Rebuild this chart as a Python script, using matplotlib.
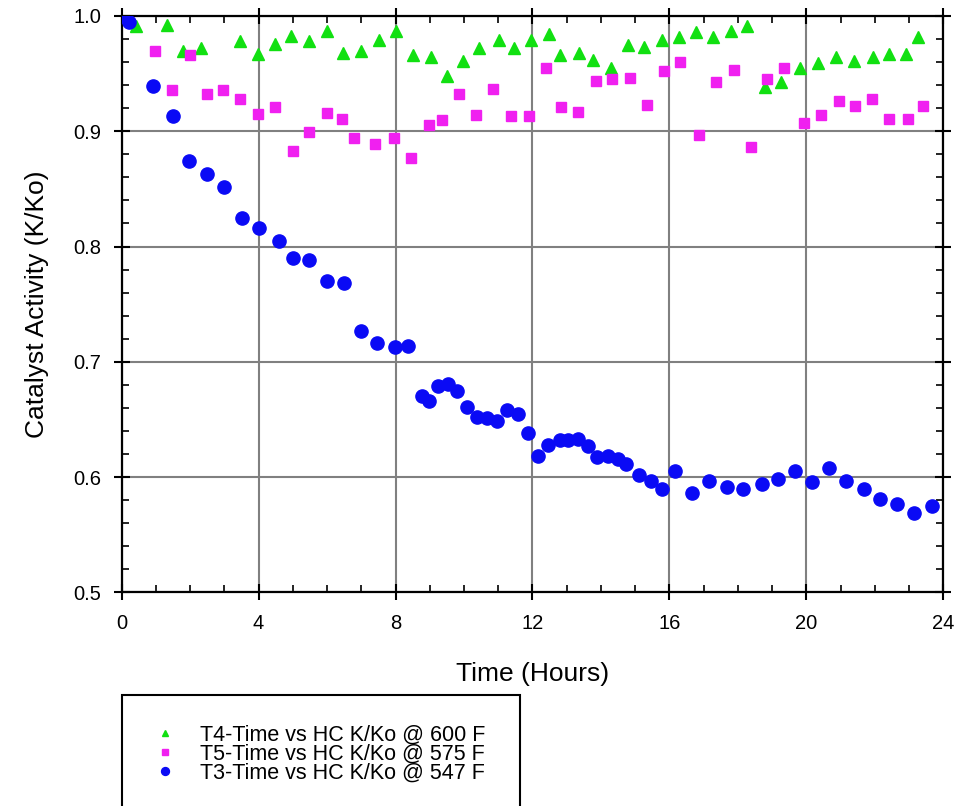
import matplotlib
matplotlib.use('Agg')
import matplotlib.pyplot as plt
from matplotlib.patches import Rectangle
from matplotlib.ticker import MultipleLocator, FormatStrFormatter

plt.rcParams['font.family'] = ['Liberation Sans', 'DejaVu Sans']

# T4 - 600 F
t4_time = [0.0, 0.42, 1.31, 1.80, 2.32, 3.46, 3.97, 4.47, 4.96, 5.46, 5.99, 6.47, 6.98,
           7.53, 8.01, 8.52, 9.03, 9.49, 9.98, 10.45, 11.01, 11.47, 11.96, 12.47, 12.80,
           13.35, 13.78, 14.29, 14.78, 15.27, 15.79, 16.27, 16.78, 17.27, 17.79, 18.28,
           18.79, 19.26, 19.82, 20.33, 20.87, 21.40, 21.94, 22.41, 22.90, 23.25]
t4_kko = [1.0, 0.991, 0.992, 0.970, 0.9725, 0.978, 0.967, 0.976, 0.983, 0.978, 0.987,
          0.968, 0.970, 0.979, 0.987, 0.966, 0.964, 0.948, 0.961, 0.9725, 0.979, 0.972,
          0.979, 0.984, 0.966, 0.968, 0.962, 0.955, 0.975, 0.973, 0.979, 0.982, 0.986,
          0.9815, 0.987, 0.991, 0.938, 0.943, 0.955, 0.959, 0.964, 0.961, 0.964, 0.967,
          0.967, 0.982]

# T5 - 575 F
t5_time = [0.97, 1.48, 2.0, 2.50, 2.97, 3.46, 3.99, 4.48, 5.0, 5.47, 5.99, 6.44, 6.80,
           7.40, 7.95, 8.44, 8.97, 9.35, 9.85, 10.35, 10.86, 11.36, 11.90, 12.39, 12.84,
           13.34, 13.86, 14.33, 14.85, 15.34, 15.84, 16.32, 16.86, 17.35, 17.89, 18.38,
           18.84, 19.34, 19.94, 20.43, 20.96, 21.42, 21.91, 22.40, 22.98, 23.42]
t5_kko = [0.970, 0.936, 0.966, 0.932, 0.936, 0.928, 0.915, 0.921, 0.883, 0.899, 0.916,
          0.911, 0.894, 0.889, 0.894, 0.877, 0.905, 0.910, 0.932, 0.914, 0.937, 0.913,
          0.913, 0.955, 0.921, 0.917, 0.944, 0.945, 0.946, 0.923, 0.952, 0.960, 0.897,
          0.943, 0.953, 0.886, 0.945, 0.955, 0.907, 0.914, 0.926, 0.922, 0.928, 0.911,
          0.911, 0.922]

# T3 - 547 F
t3_time = [0.0, 0.22, 0.92, 1.49, 1.97, 2.50, 3.0, 3.52, 4.0, 4.61, 5.0, 5.46, 5.99,
           6.49, 6.99, 7.47, 7.98, 8.37, 8.76, 8.98, 9.23, 9.52, 9.80, 10.10, 10.37,
           10.66, 10.96, 11.27, 11.57, 11.86, 12.15, 12.46, 12.80, 13.05, 13.34, 13.61,
           13.88, 14.20, 14.49, 14.73, 15.12, 15.46, 15.78, 16.16, 16.66, 17.17, 17.67,
           18.16, 18.70, 19.16, 19.66, 20.16, 20.66, 21.16, 21.67, 22.15, 22.66, 23.15,
           23.66]
t3_kko = [1.0, 0.995, 0.939, 0.913, 0.874, 0.863, 0.852, 0.825, 0.816, 0.805, 0.790,
          0.788, 0.770, 0.768, 0.727, 0.716, 0.713, 0.714, 0.670, 0.666, 0.679, 0.681,
          0.675, 0.661, 0.652, 0.651, 0.649, 0.658, 0.655, 0.638, 0.618, 0.628, 0.632,
          0.632, 0.633, 0.627, 0.617, 0.618, 0.616, 0.611, 0.602, 0.597, 0.590, 0.605,
          0.586, 0.597, 0.591, 0.590, 0.594, 0.598, 0.605, 0.596, 0.608, 0.597, 0.590,
          0.581, 0.577, 0.569, 0.575]

labels = ['T4-Time vs HC K/Ko @ 600 F', 'T5-Time vs HC K/Ko @ 575 F',
          'T3-Time vs HC K/Ko @ 547 F']

fig = plt.figure(figsize=(9.61, 8.06), dpi=100)
ax = fig.add_axes([0.1266, 0.2651, 0.855, 0.7151])

green, magenta, blue = '#11e011', '#f020f0', '#0a0af5'
h4, = ax.plot(t4_time, t4_kko, '^', color=green, markersize=8, linestyle='none', zorder=3)
h5, = ax.plot(t5_time, t5_kko, 's', color=magenta, markersize=6.5, linestyle='none', zorder=3)
h3, = ax.plot(t3_time, t3_kko, 'o', color=blue, markersize=9.5, linestyle='none', zorder=4)

ax.set_xlim(0, 24)
ax.set_ylim(0.5, 1.0)
ax.xaxis.set_major_locator(MultipleLocator(4))
ax.xaxis.set_minor_locator(MultipleLocator(1))
ax.yaxis.set_major_locator(MultipleLocator(0.1))
ax.yaxis.set_minor_locator(MultipleLocator(0.02))
ax.yaxis.set_major_formatter(FormatStrFormatter('%.1f'))
ax.grid(True, which='major', color='#808080', linewidth=1.5, zorder=1)
ax.set_axisbelow(True)
for s in ax.spines.values():
    s.set_linewidth(1.6)
    s.set_color('black')
ax.tick_params(which='major', direction='inout', length=11, width=1.5,
               top=True, right=True, labelsize=14.5)
ax.tick_params(axis='x', which='major', pad=10)
ax.tick_params(axis='y', which='major', pad=9)
ax.tick_params(which='minor', direction='in', length=5, width=1.2,
               top=True, right=True)

ax.set_xlabel('Time (Hours)', fontsize=19, labelpad=21)
ax.set_ylabel('Catalyst Activity (K/Ko)', fontsize=19, labelpad=18)

# legend box, cut off at the bottom of the figure like the original
fig.patches.append(Rectangle((121.7 / 961, -0.05), (520 - 121.7) / 961, 0.05 + (806 - 695) / 806,
                             transform=fig.transFigure, fill=False, edgecolor='black',
                             linewidth=1.5))
fig.legend([h4, h5, h3], labels, loc='upper left', bbox_to_anchor=(0.1461, 0.1115),
           frameon=False, fontsize=15.5, markerscale=0.6, handletextpad=0.88,
           labelspacing=-0.09, handlelength=1.5, borderaxespad=0)

fig.savefig('out.png', dpi=100)
